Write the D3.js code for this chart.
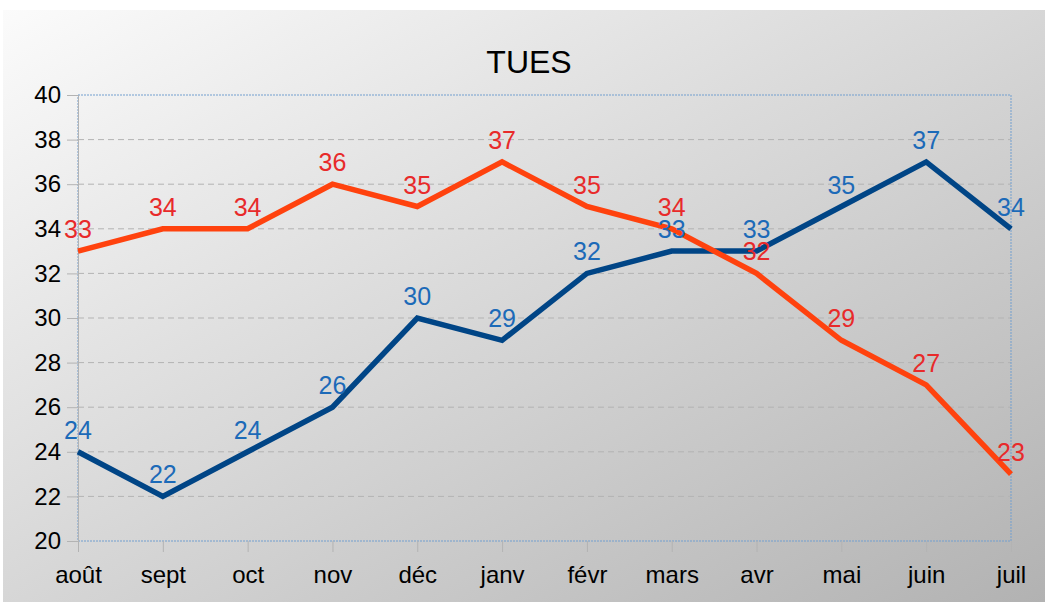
<!DOCTYPE html>
<html>
<head>
<meta charset="utf-8">
<script src="https://cdn.jsdelivr.net/npm/d3@7"></script>
<style>
  body { margin: 0; background: #fff; }
  text { font-family: "Liberation Sans", Arial, sans-serif; }
</style>
</head>
<body>
<div id="chart"></div>
<script>
// data
var months = ["août", "sept", "oct", "nov", "déc", "janv", "févr", "mars", "avr", "mai", "juin", "juil"];
var blueValues = [24, 22, 24, 26, 30, 29, 32, 33, 33, 35, 37, 34];
var redValues = [33, 34, 34, 36, 35, 37, 35, 34, 32, 29, 27, 23];
var yTicks = [20, 22, 24, 26, 28, 30, 32, 34, 36, 38, 40];
var title = "TUES";

var W = 1045, H = 602;
var margin = {top: 95, right: 34, bottom: 61, left: 78},
width = W - margin.left - margin.right,
height = H - margin.top - margin.bottom;

var root = d3.select("#chart")
.append("svg")
.attr("width", W)
.attr("height", H);

// background gradient
var grad = root.append("defs").append("linearGradient")
  .attr("id", "bg")
  .attr("x1", "0%").attr("y1", "0%")
  .attr("x2", "100%").attr("y2", "100%");
grad.append("stop").attr("offset", "0%").attr("stop-color", "#fbfbfb");
grad.append("stop").attr("offset", "100%").attr("stop-color", "#b2b2b2");

root.append("rect")
  .attr("x", 3).attr("y", 10)
  .attr("width", W - 3).attr("height", H - 10)
  .attr("fill", "url(#bg)");

root.append("text")
  .attr("x", 529).attr("y", 73)
  .attr("text-anchor", "middle")
  .style("font-size", "32px")
  .attr("fill", "#000")
  .text(title);

var svg = root.append("g")
  .attr("transform", "translate(" + margin.left + "," + margin.top + ")");

var x = d3.scalePoint().domain(months).range([0, width]);
var y = d3.scaleLinear().domain([20, 40]).range([height, 0]);

// gridlines
svg.append("g")
  .selectAll("line")
  .data(yTicks.slice(1, -1))
  .enter().append("line")
  .attr("x1", 0).attr("x2", width)
  .attr("y1", function(d) { return y(d); })
  .attr("y2", function(d) { return y(d); })
  .attr("stroke", "#b3b3b3")
  .attr("stroke-dasharray", "6,4")
  .attr("stroke-width", 1);

// plot border (dotted)
svg.append("rect")
  .attr("x", 0).attr("y", 0)
  .attr("width", width).attr("height", height)
  .attr("fill", "none")
  .attr("stroke", "#729fcf")
  .attr("stroke-dasharray", "2,1")
  .attr("stroke-width", 1);

// Y axis
var yAxis = svg.append("g")
  .call(d3.axisLeft(y).tickValues(yTicks).tickSize(11).tickPadding(6));
yAxis.select(".domain").attr("stroke", "#b3b3b3");
yAxis.selectAll(".tick line").attr("stroke", "#b3b3b3");
yAxis.selectAll(".tick text")
  .style("font-size", "24px")
  .attr("fill", "#000")
  .attr("font-family", "Liberation Sans, Arial, sans-serif");

// X axis
var xAxis = svg.append("g")
  .attr("transform", "translate(0," + height + ")")
  .call(d3.axisBottom(x).tickSize(11).tickPadding(14));
xAxis.select(".domain").remove();
xAxis.selectAll(".tick line").attr("stroke", "#b3b3b3");
xAxis.selectAll(".tick text")
  .style("font-size", "24px")
  .attr("fill", "#000")
  .attr("font-family", "Liberation Sans, Arial, sans-serif");

var line = d3.line()
  .x(function(d, i) { return x(months[i]); })
  .y(function(d) { return y(d); });

function drawSeries(vals, lineColor) {
  svg.append("path")
    .datum(vals)
    .attr("fill", "none")
    .attr("stroke", lineColor)
    .attr("stroke-width", 5.5)
    .attr("stroke-linejoin", "miter")
    .attr("d", line);
}
function drawLabels(vals, labelColor) {
  svg.append("g")
    .selectAll("text")
    .data(vals)
    .enter().append("text")
    .attr("x", function(d, i) { return x(months[i]); })
    .attr("y", function(d) { return y(d) - 13; })
    .attr("text-anchor", "middle")
    .style("font-size", "25px")
    .attr("fill", labelColor)
    .text(function(d) { return d; });
}

drawSeries(blueValues, "#004586");
drawSeries(redValues, "#ff420e");
drawLabels(blueValues, "#1c6ab8");
drawLabels(redValues, "#e82a2a");
</script>
</body>
</html>
